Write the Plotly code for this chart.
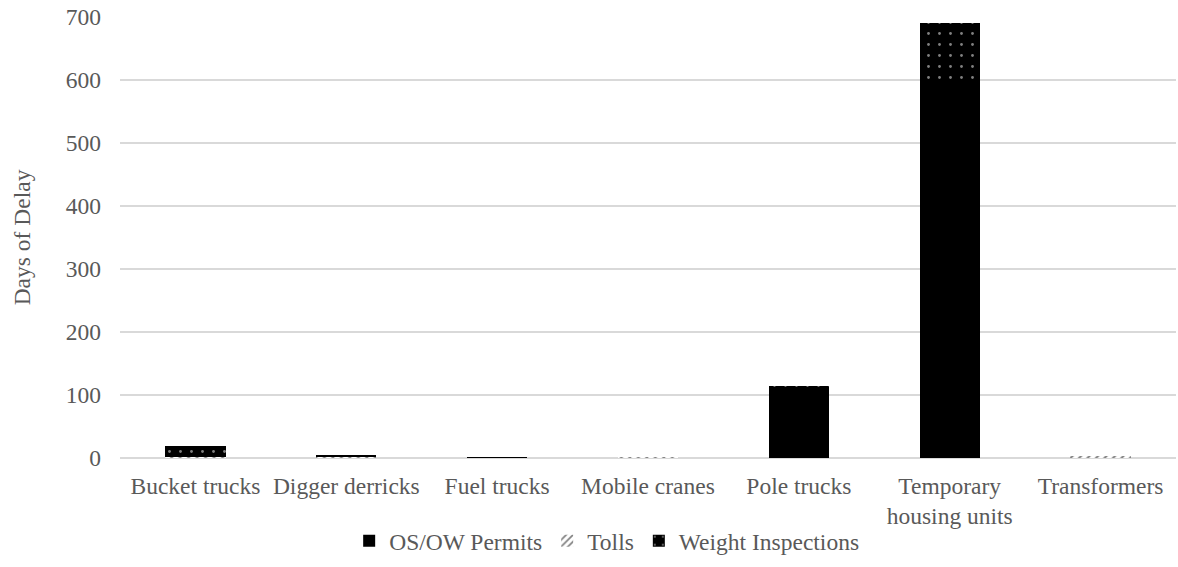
import plotly.graph_objects as go

# Equipment categories and delay days by cause
categories = ["Bucket trucks", "Digger derricks", "Fuel trucks", "Mobile cranes",
              "Pole trucks", "Temporary<br>housing units", "Transformers"]
osow_permits = [0, 0, 0, 0, 111, 600, 0]
tolls = [2, 1, 0, 1, 0, 0, 3]
weight_inspections = [17, 4, 0.3, 0, 4, 90, 0]
y_ticks = [0, 100, 200, 300, 400, 500, 600, 700]

FONT = "Liberation Serif"
SIZE = 23.5
TEXT = "#595959"
GRID = "#d9d9d9"

fig = go.Figure()
fig.add_trace(go.Bar(
    x=categories, y=osow_permits, name="OS/OW Permits",
    marker=dict(color="black", line=dict(width=0)),
))
fig.add_trace(go.Bar(
    x=categories, y=tolls, name="Tolls",
    marker=dict(color="white", line=dict(width=0),
                pattern=dict(shape="/", fgcolor="black", bgcolor="white",
                             size=6, solidity=0.35, fillmode="overlay")),
))
fig.add_trace(go.Bar(
    x=categories, y=weight_inspections, name="Weight Inspections",
    marker=dict(color="black", line=dict(width=0),
                pattern=dict(shape=".", fgcolor="white", bgcolor="black",
                             size=11, solidity=0.05, fillmode="overlay")),
))

fig.update_layout(
    barmode="stack",
    bargap=0.6,
    width=1178, height=567,
    margin=dict(l=120, r=2, t=17, b=109),
    paper_bgcolor="white", plot_bgcolor="white",
    font=dict(family=FONT, size=SIZE, color=TEXT),
    showlegend=True,
    legend=dict(orientation="h", x=0.515, xanchor="center", xref="container",
                y=0.046, yanchor="middle", yref="container",
                font=dict(family=FONT, size=SIZE, color=TEXT),
                itemwidth=30, traceorder="normal"),
    xaxis=dict(showgrid=False, showline=False, ticks="", ticklabelstandoff=11, automargin=False,
               tickfont=dict(family=FONT, size=SIZE, color=TEXT)),
    yaxis=dict(range=[0, 700], tickvals=y_ticks, showgrid=True, gridcolor=GRID, gridwidth=1.5,
               zeroline=True, zerolinecolor=GRID, zerolinewidth=1.5, showline=False,
               ticks="", ticklabelstandoff=18, automargin=False,
               title=dict(text="Days of Delay", font=dict(family=FONT, size=SIZE, color=TEXT), standoff=28),
               tickfont=dict(family=FONT, size=SIZE, color=TEXT)),
)

fig.write_html("out.html")
